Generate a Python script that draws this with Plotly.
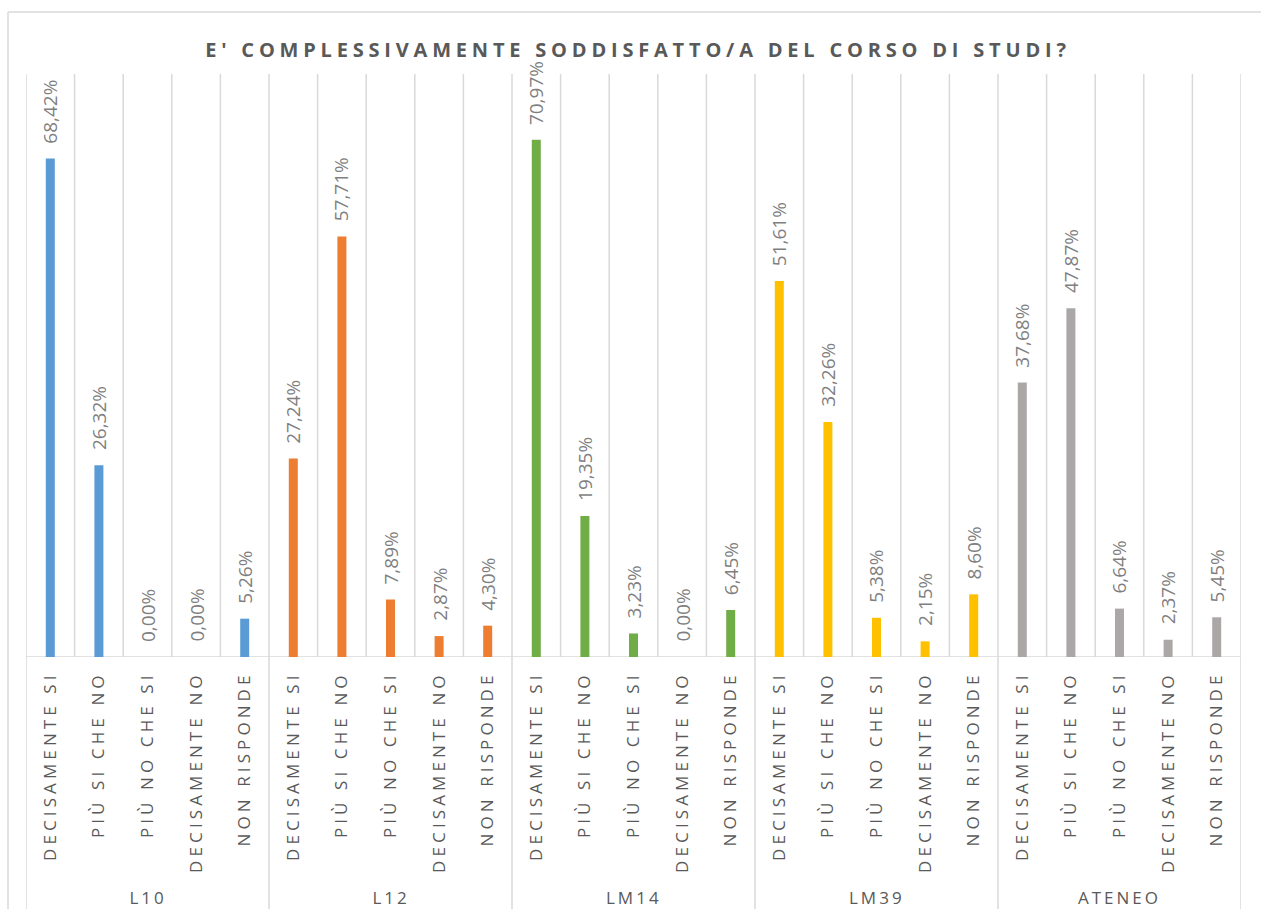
import plotly.graph_objects as go

groups = ["L10", "L12", "LM14", "LM39", "ATENEO"]
answers = ["DECISAMENTE SI", "PIÙ SI CHE NO", "PIÙ NO CHE SI", "DECISAMENTE NO", "NON RISPONDE"]
values_L10 = [68.42, 26.32, 0.00, 0.00, 5.26]
values_L12 = [27.24, 57.71, 7.89, 2.87, 4.30]
values_LM14 = [70.97, 19.35, 3.23, 0.00, 6.45]
values_LM39 = [51.61, 32.26, 5.38, 2.15, 8.60]
values_ATENEO = [37.68, 47.87, 6.64, 2.37, 5.45]
colors = ["#5B9BD5", "#ED7D31", "#70AD47", "#FFC000", "#ABA7A7"]
title = "E' COMPLESSIVAMENTE SODDISFATTO/A DEL CORSO DI STUDI?"

series = [values_L10, values_L12, values_LM14, values_LM39, values_ATENEO]
n = len(answers)
grid_col = "#D9D9D9"

fig = go.Figure()
annotations = []
for gi, (g, vals, c) in enumerate(zip(groups, series, colors)):
    xs = [gi * n + k for k in range(n)]
    fig.add_trace(go.Bar(
        x=xs,
        y=vals,
        marker_color=c,
        marker_line_width=0,
        showlegend=False,
        width=0.185,
        hoverinfo="x+y",
    ))
    for xv, v in zip(xs, vals):
        annotations.append(dict(text=f"{v:.2f}%".replace(".", ","), xref="x", yref="y", x=xv, y=v,
                                textangle=-90, showarrow=False, xanchor="center", yanchor="bottom",
                                yshift=13,
                                font=dict(family="Open Sans", size=19, color="#7F7F7F")))

total = n * len(groups)
shapes = []
# vertical gridlines at category boundaries
for i in range(total + 1):
    shapes.append(dict(type="line", xref="x", yref="y", x0=i - 0.5, x1=i - 0.5, y0=0, y1=80,
                       line=dict(color=grid_col, width=1.5), layer="below"))
# group dividers below axis
for gi in range(len(groups) + 1):
    shapes.append(dict(type="line", xref="x", yref="paper", x0=gi * n - 0.5, x1=gi * n - 0.5,
                       y0=0, y1=-0.5, line=dict(color=grid_col, width=1.5), layer="below"))
# baseline
shapes.append(dict(type="line", xref="x", yref="y", x0=-0.5, x1=total - 0.5, y0=0, y1=0,
                   line=dict(color=grid_col, width=1.5), layer="below"))
# chart border (top, left)
shapes.append(dict(type="line", xref="paper", yref="paper", x0=-0.0148, x1=1.1, y0=1.1063, y1=1.1063,
                   line=dict(color=grid_col, width=1.5)))
shapes.append(dict(type="line", xref="paper", yref="paper", x0=-0.0148, x1=-0.0148, y0=1.1063, y1=-1,
                   line=dict(color=grid_col, width=1.5)))

for gi, g in enumerate(groups):
    annotations.append(dict(text=g, xref="x", yref="paper", x=gi * n + (n - 1) / 2, y=-0.413,
                            showarrow=False, xanchor="center", yanchor="middle",
                            font=dict(family="Open Sans", size=17, color="#595959")))

fig.update_layout(
    width=1261, height=909,
    margin=dict(l=26, r=20, t=74, b=252),
    paper_bgcolor="white", plot_bgcolor="white",
    title=dict(text=f"<b>{title}</b>", x=0.5037, xanchor="center", y=0.945, yanchor="middle",
               xref="paper",
               font=dict(family="Open Sans", size=20, color="#595959")),
    xaxis=dict(
        range=[-0.5, total - 0.5],
        tickmode="array",
        tickvals=list(range(total)),
        ticktext=answers * len(groups),
        tickangle=-90,
        tickfont=dict(family="Open Sans", size=17, color="#595959"),
        ticklabelstandoff=10,
        showgrid=False, zeroline=False, showline=False,
        ticks="",
    ),
    yaxis=dict(range=[0, 80], visible=False, showgrid=False, zeroline=False),
    shapes=shapes,
    annotations=annotations,
)

post = """
document.body.style.margin='0';
var gd = document.getElementsByClassName('plotly-graph-div')[0];
gd.querySelectorAll('.xaxislayer-above text').forEach(function(t){ t.style.letterSpacing='4.1px'; });
gd.querySelectorAll('.gtitle').forEach(function(t){ t.style.letterSpacing='4.8px'; });
gd.querySelectorAll('.annotation-text').forEach(function(t){
  if (/^[A-Z]/.test(t.textContent)) { t.style.letterSpacing='3px'; }
});
"""
fig.write_html("out.html", post_script=post, config={"displayModeBar": False})
